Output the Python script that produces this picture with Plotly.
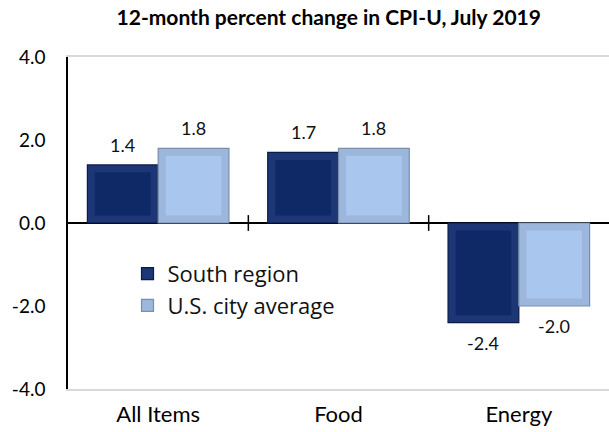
import plotly.graph_objects as go

categories = ["All Items", "Food", "Energy"]
south_region = [1.4, 1.7, -2.4]
us_city_average = [1.8, 1.8, -2.0]
series_names = ["South region", "U.S. city average"]
y_ticks = [-4.0, -2.0, 0.0, 2.0, 4.0]

FONT = "Lato"
BARGAP = 0.215
BAR_W = (1 - BARGAP) / 2
INSET_X = 0.042     # bevel width in category units
INSET_Y = 0.18      # bevel height in value units

styles = [
    dict(band="#1D3676", face="#0F2866", edge="#0A1B48"),
    dict(band="#9CB6DC", face="#A9C6EE", edge="#7A8FAE"),
]
xs = list(range(len(categories)))

fig = go.Figure()
for k, (name, vals) in enumerate(zip(series_names, [south_region, us_city_average])):
    st = styles[k]
    off = -BAR_W + k * BAR_W
    # outer (bevel band)
    fig.add_trace(go.Bar(
        name=name, x=xs, y=vals, width=BAR_W, offset=off,
        marker=dict(color=st["band"], line=dict(color=st["edge"], width=1.2)),
        showlegend=True, hoverinfo="skip",
    ))
    # inner face
    signs = [1 if v >= 0 else -1 for v in vals]
    fig.add_trace(go.Bar(
        x=xs, y=[v - 2 * s * INSET_Y for v, s in zip(vals, signs)],
        base=[s * INSET_Y for s in signs],
        width=BAR_W - 2 * INSET_X, offset=off + INSET_X,
        marker=dict(color=st["face"], line=dict(width=0)),
        showlegend=False, hoverinfo="skip",
    ))

annotations = []
for k, vals in enumerate([south_region, us_city_average]):
    for i, v in enumerate(vals):
        annotations.append(dict(
            x=i - BAR_W / 2 + k * BAR_W, y=v, xref="x", yref="y",
            text=f"{v:.1f}", showarrow=False,
            yshift=20 if v >= 0 else -20,
            font=dict(family=FONT, size=18, color="#111111"),
        ))

shapes = []
for i in range(len(categories) - 1):
    shapes.append(dict(type="line", xref="x", yref="y", x0=i + 0.5, x1=i + 0.5,
                       y0=-0.19, y1=0.19, line=dict(color="black", width=1.5)))

fig.update_layout(
    width=609, height=432,
    margin=dict(l=68, r=0, t=57, b=43),
    paper_bgcolor="white", plot_bgcolor="white",
    barmode="overlay",
    title=dict(text="<b>12-month percent change in CPI-U, July 2019</b>",
               x=0.482, xref="paper", xanchor="center", y=0.958, yanchor="middle",
               font=dict(family=FONT, size=21, color="#000000")),
    showlegend=True,
    legend=dict(x=0.11, y=0.41, xanchor="left", yanchor="top",
                font=dict(family="Open Sans", size=22, color="#111111"),
                bgcolor="rgba(0,0,0,0)", itemwidth=30),
    annotations=annotations,
    shapes=shapes,
    xaxis=dict(tickmode="array", tickvals=xs, ticktext=categories,
               range=[-0.5, len(categories) - 0.5],
               showline=True, linecolor="#D9D9D9", linewidth=1.5, mirror=True,
               showgrid=False, ticks="", zeroline=False, ticklabelstandoff=5,
               tickfont=dict(family=FONT, size=22, color="#000000")),
    yaxis=dict(range=[-4, 4], tickmode="array", tickvals=y_ticks,
               ticktext=[f"{t:.1f}" for t in y_ticks],
               showgrid=False, zeroline=True, zerolinecolor="black", zerolinewidth=1.5,
               showline=True, linecolor="black", linewidth=1.5,
               ticks="", ticklabelstandoff=17,
               tickfont=dict(family=FONT, size=19, color="#000000")),
)

fig.write_html("out.html", config={"displayModeBar": False},
               post_script="document.body.style.margin='0';")
